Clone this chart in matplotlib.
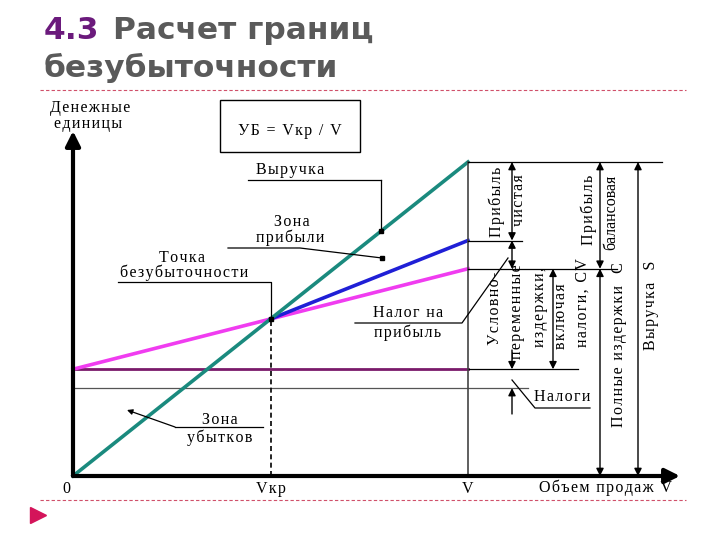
import numpy as np
import matplotlib.pyplot as plt
from matplotlib.patches import Rectangle

# economic model (units: volume 0..V=100, money 0..S(V)=100)
volume = [0, 50, 100]            # 0, Vкр, V
revenue = [0, 50, 100]           # выручка
costs_total = [34, 50, 66]       # полные издержки C
costs_tax_vol = [50, 100]
costs_tax = [50, 75]             # издержки + налог на прибыль
fixed_level = 34                 # условно-постоянные
tax_level = 28                   # налоги
v_break, v_max = 50, 100

axis_labels = ["0", "Vкр", "V"]

# pixel layout of the chart origin and scale
X0, Y0, SX, SY = 73, 476, 3.95, 3.14
W, H = 720, 540


def P(px, py):
    return (px - X0) / SX, (Y0 - py) / SY


def PX(px):
    return (px - X0) / SX


def PY(py):
    return (Y0 - py) / SY


def sp(t):
    # a little letter spacing, like the original scan
    return "\u200a".join(t)


fig = plt.figure(figsize=(7.2, 5.4), dpi=100)
ax = fig.add_axes([0, 0, 1, 1])
ax.set_xlim(PX(0), PX(W))
ax.set_ylim(PY(H), PY(0))
ax.axis("off")

serif = "Liberation Serif"
fs = 11.5


def label(px, py, t, **kw):
    ax.text(*P(px, py), sp(t), ha="center", va="center", family=serif,
            fontsize=fs, **kw)


# title
tf = dict(fontsize=22.5, fontweight="bold", family="DejaVu Sans", va="center")
fig.text(44 / W, 1 - 31 / H, "4.3", color="#6b1a7c", **tf)
fig.text(113 / W, 1 - 31 / H, "Расчет границ", color="#5a5a5a", **tf)
fig.text(44 / W, 1 - 68 / H, "безубыточности", color="#5a5a5a", **tf)

# dashed separators
for yy in (90, 500):
    ax.plot([PX(40), PX(686)], [PY(yy), PY(yy)], color="#d0506a", lw=0.8,
            dashes=(3, 2))
ax.plot(PX(38), PY(515), marker=">", color="#d4145a", markersize=11)

# axes with arrows
ax.annotate("", xy=P(680, Y0), xytext=(0, 0),
            arrowprops=dict(arrowstyle="-|>", color="black", lw=3,
                            mutation_scale=22, shrinkA=0, shrinkB=0))
ax.annotate("", xy=P(X0, 131), xytext=(0, 0),
            arrowprops=dict(arrowstyle="-|>", color="black", lw=3,
                            mutation_scale=22, shrinkA=0, shrinkB=0))

# levels
ax.plot([0, PX(528)], [tax_level, tax_level], color="#555555", lw=0.9)
ax.plot([0, v_max], [fixed_level, fixed_level], color="#7a1a6a", lw=2)
ax.plot([v_max, PX(578)], [fixed_level, fixed_level], color="black", lw=0.9)

# main lines
ax.plot(volume, costs_total, color="#f03cf0", lw=2.6)
ax.plot(costs_tax_vol, costs_tax, color="#1f1fd6", lw=2.6)
ax.plot(volume, revenue, color="#1a8a7e", lw=2.6)

# V and Vkr verticals
ax.plot([v_max, v_max], [0, revenue[-1]], color="#444444", lw=1.2)
ax.plot([v_break, v_break], [0, revenue[1]], color="black", lw=1.2, dashes=(3, 2))

# right-side extension lines
ax.plot([v_max, PX(662)], [revenue[-1]] * 2, color="black", lw=0.9)
ax.plot([v_max, PX(522)], [costs_tax[-1]] * 2, color="black", lw=0.9)
ax.plot([v_max, PX(617)], [costs_total[-1]] * 2, color="black", lw=0.9)


def darrow(x, y1, y2, style="<|-|>"):
    ax.annotate("", xy=(x, y2), xytext=(x, y1),
                arrowprops=dict(arrowstyle=style, color="black", lw=1,
                                mutation_scale=11, shrinkA=0, shrinkB=0))


darrow(PX(512), revenue[-1], costs_tax[-1])
darrow(PX(512), costs_tax[-1], costs_total[-1])
darrow(PX(553), costs_total[-1], fixed_level)
darrow(PX(600), revenue[-1], costs_total[-1])
darrow(PX(600), costs_total[-1], 0)
darrow(PX(638), revenue[-1], 0)
# taxes arrows
ax.annotate("", xy=(PX(512), fixed_level), xytext=P(512, 350),
            arrowprops=dict(arrowstyle="-|>", color="black", lw=1,
                            mutation_scale=11, shrinkA=0, shrinkB=0))
ax.annotate("", xy=(PX(512), tax_level), xytext=P(512, 414),
            arrowprops=dict(arrowstyle="-|>", color="black", lw=1,
                            mutation_scale=11, shrinkA=0, shrinkB=0))

# rotated labels
rot = [("Прибыль", 497, 202), ("чистая", 519, 200),
       ("Прибыль", 589, 210), ("балансовая", 611, 212),
       ("Условно-", 495, 308), ("переменные", 517, 312), ("издержки,", 540, 307),
       ("включая", 561, 316), ("налоги, CV", 583, 303),
       ("Полные издержки  C", 619, 345), ("Выручка  S", 651, 305)]
for t, px, py in rot:
    txt = t if t == "балансовая" else sp(t)
    ax.text(*P(px, py), txt, rotation=90, rotation_mode="anchor", ha="center",
            va="center", family=serif, fontsize=fs)

# y axis label and formula box
label(90, 108, "Денежные")
label(88, 124, "единицы")
bx, by = P(220, 152)
ax.add_patch(Rectangle((bx, by), 140 / SX, 52 / SY, fill=False, lw=1, ec="black"))
label(290, 131, "УБ = Vкр / V")

# Выручка callout
dot_rev = 78
label(290, 170, "Выручка")
ax.plot([PX(248), dot_rev], [PY(180), PY(180)], color="black", lw=0.9)
ax.plot([dot_rev, dot_rev], [PY(180), dot_rev], color="black", lw=0.9)
ax.plot(dot_rev, dot_rev, "s", color="black", markersize=3)

# Зона прибыли callout
label(292, 222, "Зона")
label(290, 238, "прибыли")
ax.plot([PX(228), PX(300), PX(382)], [PY(248), PY(248), PY(258)], color="black", lw=0.9)
ax.plot(*P(382, 258), "s", color="black", markersize=3)

# Точка безубыточности callout
label(182, 258, "Точка")
label(184, 273, "безубыточности")
ax.plot([PX(118), v_break, v_break], [PY(282), PY(282), revenue[1]],
        color="black", lw=0.9)
ax.plot(v_break, revenue[1], "s", color="black", markersize=3)

# Налог на прибыль callout
label(408, 313, "Налог на")
label(408, 333, "прибыль")
ax.plot([PX(355), PX(462), PX(508)], [PY(323), PY(323), PY(258)], color="black", lw=0.9)

# Налоги callout
label(562, 397, "Налоги")
ax.plot([PX(512), PX(535), PX(590)], [PY(380), PY(408), PY(408)], color="black", lw=0.9)

# Зона убытков callout
label(220, 420, "Зона")
label(220, 438, "убытков")
ax.plot([PX(263), PX(175)], [PY(427), PY(427)], color="black", lw=0.9)
ax.annotate("", xy=P(127, 410), xytext=P(175, 427),
            arrowprops=dict(arrowstyle="-|>", color="black", lw=0.9,
                            mutation_scale=8, shrinkA=0, shrinkB=0))

# axis tick labels
for v, lab in zip(volume, axis_labels):
    off = -7 / SX if lab == "0" else 0
    ax.text(v + off, PY(489), sp(lab), ha="center", va="center", family=serif,
            fontsize=fs)
label(605, 488, "Объем продаж V")

fig.savefig("out.png", dpi=100)
